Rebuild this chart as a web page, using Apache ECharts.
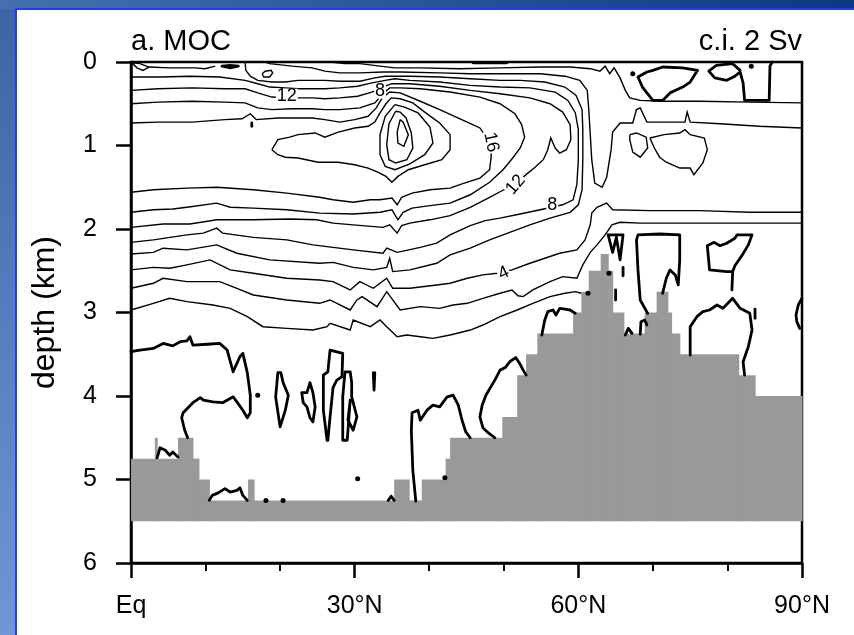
<!DOCTYPE html>
<html>
<head>
<meta charset="utf-8">
<script src="https://cdn.jsdelivr.net/npm/echarts@6/dist/echarts.min.js"></script>
<style>
html, body { margin: 0; padding: 0; background: #fff; }
#chart { width: 854px; height: 635px; }
</style>
</head>
<body>
<div id="chart"></div>
<script>
// bathymetry: step edges (deg N) and depth (km) of each step, model floor
var floorDepth = 5.5;
var bathyEdges = [0,3.2,3.5,6.3,8.3,9.1,10.5,15.7,16.5,35.3,37.3,39.0,42.2,42.8,49.8,51.8,53.0,54.5,59.3,60.4,61.4,63.0,64.0,64.6,66.1,68.9,70.5,72.0,72.5,73.6,81.5,83.7,90];
var bathyDepth = [4.75,4.5,4.75,4.5,4.75,5.0,5.25,5.0,5.25,5.0,5.25,5.0,4.75,4.5,4.25,3.75,3.5,3.25,3.0,2.75,2.5,2.3,2.5,3.0,3.25,3.0,2.75,3.0,3.25,3.5,3.75,4.0];

// positive contours [lat, depth]
var k1 = [[0,0.73],[3.6,0.72],[8.2,0.72],[12.6,0.69],[14.9,0.68],[16.0,0.62],[16.8,0.69],[19.7,0.67],[22.4,0.67],[24.3,0.67],[26.0,0.69],[28.0,0.72],[30.0,0.69],[31.8,0.65],[32.9,0.55],[33.7,0.43],[34.7,0.36],[36.1,0.37],[38.8,0.47],[41.4,0.57],[45.1,0.72],[46.8,0.79],[47.7,0.91],[48.3,1.05],[48.3,1.14],[48.1,1.29],[46.8,1.39],[44.4,1.46],[42.8,1.51],[40.1,1.53],[37.7,1.57],[36.3,1.62],[35.7,1.71],[35.0,1.63],[33.4,1.65],[32.1,1.65],[29.8,1.68],[27.1,1.65],[25.3,1.62],[20.9,1.57],[16.4,1.53],[11.5,1.50],[7.5,1.51],[3.0,1.53],[0,1.56]];
var k2 = [[0,0.50],[3.6,0.48],[8.2,0.47],[12.6,0.48],[15.3,0.49],[17.0,0.55],[18.9,0.57],[21.6,0.56],[24.3,0.56],[26.0,0.57],[28.0,0.57],[30.7,0.55],[32.7,0.49],[33.8,0.38],[34.7,0.31],[36.1,0.31],[38.8,0.32],[42.8,0.36],[46.8,0.42],[49.5,0.50],[51.5,0.62],[52.4,0.75],[52.8,0.90],[52.2,1.03],[51.2,1.15],[49.9,1.29],[48.1,1.44],[45.5,1.59],[42.8,1.69],[40.1,1.72],[37.7,1.75],[36.5,1.80],[35.8,1.89],[35.0,1.77],[33.4,1.80],[29.8,1.82],[25.3,1.81],[20.9,1.77],[16.4,1.75],[13.3,1.74],[11.5,1.69],[7.5,1.74],[5.6,1.76],[3.0,1.77],[0,1.80]];
var k3 = [[0,0.34],[3.6,0.32],[8.2,0.31],[12.6,0.32],[15.3,0.32],[17.0,0.37],[18.9,0.42],[20.9,0.43],[22.7,0.43],[24.3,0.43],[26.0,0.44],[28.0,0.43],[30.4,0.41],[32.3,0.36],[33.7,0.30],[35.0,0.26],[37.4,0.26],[41.4,0.29],[45.5,0.34],[49.5,0.38],[53.5,0.43],[56.2,0.50],[57.9,0.60],[58.9,0.75],[59.0,0.93],[58.4,1.05],[57.5,1.09],[56.9,1.03],[56.3,0.91],[55.9,1.05],[55.3,1.17],[54.2,1.26],[53.1,1.34],[51.6,1.46],[50.0,1.53],[48.1,1.62],[45.5,1.74],[42.8,1.84],[40.1,1.89],[37.4,1.93],[36.3,1.96],[35.7,2.05],[34.7,1.95],[33.8,1.98],[29.8,1.95],[27.1,1.93],[24.9,1.89],[21.3,1.88],[16.4,1.89],[11.5,1.89],[7.9,1.94],[4.3,1.94],[0,1.98]];
var k4 = [[0,0.18],[3.9,0.18],[7.9,0.17],[11.9,0.18],[15.3,0.22],[17.0,0.26],[18.6,0.30],[20.7,0.31],[22.4,0.32],[24.3,0.32],[26.0,0.32],[28.0,0.31],[30.4,0.29],[32.3,0.25],[34.1,0.22],[35.4,0.20],[37.4,0.22],[41.4,0.24],[45.5,0.28],[49.5,0.30],[53.5,0.31],[56.9,0.36],[58.6,0.46],[59.6,0.61],[60.0,0.81],[60.0,1.17],[59.8,1.47],[59.3,1.65],[57.9,1.71],[54.9,1.77],[52.2,1.82],[49.5,1.87],[47.5,1.90],[45.5,1.96],[42.8,2.07],[41.0,2.17],[38.8,2.22],[35.7,2.28],[34.3,2.23],[33.8,2.29],[29.8,2.25],[27.1,2.22],[24.4,2.19],[20.9,2.13],[16.4,2.10],[12.3,2.05],[11.5,1.99],[9.7,2.05],[7.5,2.07],[3.0,2.13],[0,2.16]];
var k5 = [[15.3,0],[15.4,0.10],[16.0,0.17],[17.0,0.22],[18.9,0.24],[20.7,0.24],[22.4,0.22],[24.3,0.22],[26.0,0.22],[28.0,0.23],[30.7,0.23],[32.7,0.19],[34.1,0.17],[35.4,0.17],[37.4,0.17],[41.4,0.18],[45.5,0.20],[49.5,0.22],[52.2,0.22],[55.5,0.24],[58.2,0.30],[59.7,0.40],[60.5,0.57],[60.6,0.81],[60.6,1.17],[60.5,1.53],[60.0,1.71],[58.9,1.80],[56.2,1.87],[53.5,1.95],[50.8,2.04],[48.1,2.13],[45.5,2.23],[42.8,2.31],[41.0,2.41],[37.4,2.49],[35.1,2.51],[34.7,2.35],[34.3,2.46],[32.5,2.49],[29.8,2.46],[27.1,2.40],[25.3,2.41],[18.6,2.37],[14.2,2.29],[11.5,2.19],[7.5,2.25],[4.3,2.23],[3.0,2.28],[0,2.30]];
var tongue = [[18.0,0],[18.6,0.02],[21.6,0.05],[24.3,0.07],[26.0,0.11],[28.0,0.13],[30.7,0.13],[33.8,0.12],[36.1,0.12],[41.4,0.13],[45.5,0.14],[49.5,0.14],[54.9,0.14],[58.2,0.17],[60.2,0.22],[61.2,0.34],[61.4,0.57],[61.6,0.87],[61.8,1.17],[62.2,1.45],[63.2,1.50],[63.8,1.38],[64.4,1.05],[64.6,0.84],[65.6,0.73],[67.3,0.73],[67.8,0.57],[68.3,0.55],[69.2,0.72],[74.3,0.72],[74.6,0.60],[75.0,0.72],[79.0,0.74],[84.3,0.77],[90,0.79]];
var shallowEast = [[26.7,0],[28.7,0.02],[30.7,0.02],[33.4,0.05],[35.4,0.07],[38.8,0.07],[44.1,0.08],[49.5,0.07],[54.9,0.06],[58.9,0.06],[61.6,0.08],[62.9,0.11],[63.6,0.05],[64.2,0.14],[64.8,0.07],[65.6,0.19],[66.3,0.34],[66.9,0.43],[68.3,0.46],[71.3,0.47],[76.3,0.47],[83.0,0.48],[90,0.49]];
var core4 = [[18.9,1.05],[19.7,0.93],[21.3,0.90],[22.4,0.87],[24.7,0.85],[26.0,0.90],[27.8,0.84],[30.0,0.79],[31.8,0.77],[32.7,0.72],[33.4,0.61],[34.2,0.50],[34.9,0.43],[36.1,0.44],[37.8,0.49],[39.4,0.60],[41.4,0.73],[42.8,0.87],[42.8,1.05],[41.7,1.17],[39.4,1.23],[37.2,1.29],[35.8,1.37],[35.0,1.44],[34.2,1.37],[33.1,1.32],[31.8,1.27],[30.0,1.23],[27.8,1.20],[25.1,1.20],[22.4,1.15],[20.7,1.14],[19.7,1.11],[18.9,1.05]];
var core3 = [[35.4,0.51],[34.1,0.65],[33.4,0.87],[33.4,1.11],[34.1,1.25],[35.4,1.29],[37.4,1.22],[39.4,1.11],[40.5,0.97],[40.1,0.78],[38.5,0.61],[36.7,0.54],[35.4,0.51]];
var core2 = [[35.5,0.59],[34.6,0.74],[34.3,0.99],[34.6,1.17],[35.5,1.21],[37.0,1.17],[37.8,1.03],[37.6,0.85],[36.9,0.67],[36.1,0.60],[35.5,0.59]];
var core1 = [[36.1,0.69],[35.7,0.84],[35.8,0.97],[36.6,1.01],[37.2,0.87],[36.5,0.72],[36.1,0.69]];
var r6 = [[0,2.49],[3.0,2.46],[5.2,2.47],[7.5,2.43],[10.6,2.37],[13.3,2.49],[16.4,2.53],[20.9,2.59],[25.3,2.61],[27.1,2.63],[29.4,2.73],[30.7,2.63],[32.5,2.71],[34.3,2.59],[35.1,2.71],[37.4,2.71],[41.0,2.67],[42.8,2.65],[45.1,2.59],[47.2,2.55],[49.1,2.53],[51.1,2.49],[53.5,2.41],[55.5,2.35],[57.5,2.29],[59.8,2.25],[60.9,2.13],[61.6,1.95],[61.8,1.81],[62.5,1.74],[63.8,1.69],[64.6,1.77],[69.6,1.78],[76.3,1.78],[83.0,1.80],[90,1.80]];
var r7 = [[0,2.71],[3.0,2.65],[4.3,2.59],[7.5,2.63],[11.9,2.63],[14.2,2.71],[16.4,2.79],[20.9,2.85],[25.3,2.89],[26.7,2.85],[29.4,2.97],[30.3,2.85],[31.0,2.81],[33.0,2.93],[34.3,2.75],[36.1,2.97],[38.8,2.93],[41.4,2.95],[43.2,2.91],[45.1,2.89],[47.2,2.83],[49.5,2.77],[51.1,2.73],[51.9,2.80],[52.6,2.81],[53.9,2.73],[56.2,2.63],[57.9,2.57],[59.8,2.59],[60.6,2.43],[61.6,2.28],[62.5,2.19],[63.6,2.07],[64.5,1.95],[65.6,1.92],[68.3,1.93],[76.3,1.93],[90,1.93]];
var r8 = [[0,2.97],[3.0,2.89],[5.2,2.83],[7.5,2.87],[11.0,2.91],[13.3,2.95],[15.6,3.05],[17.7,3.17],[20.9,3.19],[24.4,3.21],[26.3,3.17],[26.7,3.13],[29.4,3.21],[29.8,3.09],[32.1,3.17],[33.4,3.09],[34.3,3.17],[35.7,3.29],[37.0,3.27],[38.8,3.29],[40.5,3.31],[42.8,3.27],[45.5,3.21],[47.2,3.15],[49.5,3.05],[51.8,2.97],[53.9,2.89],[56.2,2.81],[58.2,2.77],[59.6,2.75],[60.4,2.77]];
var cornerLoop = [[0.1,0.01],[0.8,0.07],[1.6,0.10],[2.4,0.06],[1.2,0.02],[0.1,0.01]];
var surfaceWest = [[2.4,0.06],[5.2,0.07],[8.6,0.07],[9.9,0.08],[11.3,0.05]];
var smallLoopW = [[17.6,0.14],[18.0,0.11],[18.8,0.10],[19.0,0.13],[18.6,0.18],[17.8,0.18],[17.6,0.14]];
var loopE1 = [[66.9,0.87],[67.8,0.85],[69.1,0.90],[69.3,1.03],[68.3,1.14],[67.3,1.08],[66.9,0.93],[66.9,0.87]];
var loopE2 = [[69.6,0.91],[71.5,0.87],[73.6,0.85],[74.3,0.81],[75.0,0.87],[76.9,0.91],[77.3,1.05],[76.7,1.21],[75.5,1.35],[75.0,1.27],[73.6,1.27],[71.8,1.20],[70.9,1.14],[70.2,1.03],[69.6,0.91]];

// zero contours (drawn bold)
var z1 = [[0,3.47],[1.2,3.45],[3.0,3.43],[4.3,3.37],[5.6,3.40],[6.6,3.35],[7.5,3.34],[7.9,3.29],[8.3,3.39],[10.2,3.38],[11.9,3.37],[12.9,3.45],[13.7,3.71],[14.6,3.53],[15.0,3.49],[15.6,3.72],[16.0,3.99],[16.0,4.20],[15.6,4.26],[15.0,4.17],[14.2,4.07],[13.7,4.01],[12.3,4.08],[11.0,4.07],[9.7,4.05],[9.3,4.02],[8.3,4.08],[7.0,4.20],[6.8,4.26],[7.2,4.41],[7.6,4.50]];
var z2 = [[3.5,4.74],[3.9,4.62],[4.6,4.65],[5.2,4.71],[5.6,4.67],[6.3,4.73]];
var z3 = [[10.5,5.25],[10.9,5.19],[11.7,5.16],[12.6,5.11],[13.3,5.15],[14.2,5.13],[14.6,5.10],[15.0,5.19],[15.6,5.25]];
var z5 = [[19.7,3.72],[19.4,4.01],[20.0,4.37],[20.7,4.17],[21.1,3.99],[20.4,3.84],[20.1,3.72],[19.7,3.72]];
var z6 = [[22.9,3.96],[23.1,4.08],[23.6,4.13],[24.0,4.26],[24.4,4.31],[24.7,4.13],[24.4,3.96],[24.0,3.84],[23.6,3.96],[22.9,3.96]];
var z7 = [[26.3,4.53],[25.8,4.17],[25.8,3.75],[26.4,3.71],[26.7,3.45],[28.4,3.49],[28.3,3.77],[27.6,3.81],[27.1,3.90],[26.7,4.25],[26.4,4.53],[26.3,4.53]];
var z8 = [[28.4,4.53],[28.4,4.01],[28.7,3.71],[29.4,3.71],[29.6,3.84],[29.6,4.01],[30.3,4.25],[29.8,4.41],[29.1,4.29],[29.4,4.05],[29.0,4.53],[28.4,4.53]];
var z9 = [[32.5,3.72],[32.6,3.93],[32.7,3.72]];
var z10 = [[38.2,5.26],[37.8,4.89],[37.6,4.41],[37.7,4.20],[38.5,4.17],[38.8,4.29],[39.7,4.17],[40.5,4.11],[41.4,4.13],[42.4,4.01],[43.2,3.99],[43.9,4.11],[44.4,4.29],[44.9,4.43],[45.5,4.50]];
var z11 = [[34.5,5.25],[34.9,5.20],[35.3,5.25]];
var z12 = [[48.8,4.50],[47.9,4.44],[47.2,4.38],[46.8,4.25],[47.1,4.11],[47.6,3.99],[48.8,3.81],[49.5,3.69],[50.2,3.66],[50.8,3.59],[51.6,3.54],[52.2,3.62],[52.6,3.69],[53.0,3.75]];
var z13 = [[55.1,3.27],[55.5,3.09],[55.9,2.99],[56.6,2.97],[57.0,3.03],[57.5,2.95],[58.2,2.96],[58.9,2.97],[59.6,3.01]];
var z14 = [[66.3,3.27],[66.7,3.19],[67.2,3.25]];
var z15 = [[68.3,3.26],[68.4,3.11],[68.9,3.09],[69.2,3.15]];
var z16 = [[64.0,2.07],[64.6,2.28],[65.1,2.10],[65.6,2.37],[66.0,2.07],[64.0,2.07]];
var z17 = [[66.0,2.46],[66.0,2.56]];
var z18 = [[65.0,2.73],[65.0,2.85]];
var z19 = [[69.3,3.01],[68.3,2.85],[68.0,2.49],[67.8,2.13],[68.0,2.07],[70.9,2.06],[73.6,2.07],[73.6,2.37],[73.4,2.67],[73.0,2.55],[72.3,2.49],[71.8,2.59],[71.3,2.77]];
var z20 = [[80.6,2.73],[80.7,2.51],[79.9,2.51],[77.6,2.49],[77.3,2.20],[78.2,2.16],[79.0,2.20],[79.9,2.17],[81.0,2.11],[81.3,2.07],[83.3,2.07],[82.8,2.19],[82.0,2.31],[81.0,2.44],[80.7,2.51]];
var z21 = [[75.0,3.51],[75.0,3.17],[75.9,3.05],[76.7,2.99],[77.6,2.97],[78.6,2.91],[79.4,2.95],[80.7,2.83],[81.7,2.95],[83.0,3.01],[83.3,3.21],[82.8,3.41],[82.1,3.59],[82.3,3.75]];
var z22 = [[83.7,2.96],[83.7,3.07]];
var z23 = [[90,2.83],[89.5,2.91],[89.2,3.03],[89.3,3.11],[89.7,3.19]];
var z24 = [[68.0,0.18],[69.2,0.12],[70.0,0.10],[71.3,0.06],[74.0,0.07],[76.0,0.10],[75.0,0.24],[74.0,0.30],[72.3,0.37],[71.3,0.46],[70.0,0.46],[69.2,0.37],[68.6,0.30],[68.0,0.18]];
var z25 = [[86.0,0],[85.7,0.05],[85.6,0.46],[82.3,0.46],[82.1,0.25],[81.7,0.12],[81.0,0.17],[79.9,0.22],[78.3,0.19],[77.5,0.11],[78.5,0.04],[80.7,0.02],[81.7,0.10]];
var z26 = [[12.2,0.05],[13.3,0.04],[14.4,0.05],[13.3,0.07],[12.2,0.05]];
var z27 = [[45.9,0.01],[50.4,0.01]];
var z28 = [[16.2,0.73],[16.2,0.77]];

// isolated dots
var dotLat = [18.1,20.4,30.4,42.1,17.0,67.3,64.1,61.3,83.2];
var dotDepth = [5.25,5.25,4.99,4.98,3.99,0.14,2.53,2.77,0.05];

// contour labels
var labelText = ['12','8','16','12','8','4'];
var labelLat = [20.9,33.4,48.3,51.6,56.5,50.0];
var labelDepth = [0.41,0.35,0.96,1.47,1.71,2.53];

var thinLines = [k1,k2,k3,k4,k5,tongue,shallowEast,core4,core3,core2,core1,r6,r7,r8,cornerLoop,surfaceWest,smallLoopW,loopE1,loopE2];
var thickLines = [z1,z2,z3,z5,z6,z7,z8,z9,z10,z11,z12,z13,z14,z15,z16,z17,z18,z19,z20,z21,z22,z23,z24,z25,z26,z27,z28];

var FONT = '"Liberation Sans", Arial, Helvetica, sans-serif';
var labelRotate = [0, 0, -78, 50, 0, 25];

var bathyData = bathyDepth.map(function (d, i) {
    return [bathyEdges[i], bathyEdges[i + 1], d];
});

var chart = echarts.init(document.getElementById('chart'));
chart.setOption({
    animation: false,
    backgroundColor: '#fff',
    graphic: [
        {type: 'rect', shape: {x: 0, y: 0, width: 16, height: 635}, silent: true,
            style: {fill: {type: 'linear', x: 0, y: 0, x2: 0, y2: 1,
                colorStops: [{offset: 0, color: '#3c64a5'}, {offset: 1, color: '#7096d8'}]}}},
        {type: 'rect', shape: {x: 0, y: 0, width: 854, height: 9}, silent: true,
            style: {fill: {type: 'linear', x: 0, y: 0, x2: 1, y2: 0,
                colorStops: [{offset: 0, color: '#4570b0'}, {offset: 1, color: '#0b3a80'}]}}},
        {type: 'rect', shape: {x: 15, y: 8, width: 2, height: 627}, silent: true, style: {fill: '#1b3dff'}},
        {type: 'rect', shape: {x: 15, y: 8, width: 839, height: 2}, silent: true, style: {fill: '#1b3dff'}}
    ],
    title: [
        {text: 'a. MOC', left: 131, top: 27, padding: 0,
            textStyle: {fontFamily: FONT, fontSize: 29, fontWeight: 'normal', color: '#000'}},
        {text: 'c.i. 2 Sv', right: 52, top: 27, padding: 0,
            textStyle: {fontFamily: FONT, fontSize: 29, fontWeight: 'normal', color: '#000'}}
    ],
    grid: {left: 131, top: 62, right: 52, bottom: 72, show: true,
        borderColor: '#000', borderWidth: 2.5, backgroundColor: 'transparent'},
    xAxis: {
        type: 'value', min: 0, max: 90, interval: 30,
        axisLine: {show: true, onZero: false, lineStyle: {color: '#000', width: 2.5}},
        axisTick: {show: true, length: 15, lineStyle: {color: '#000', width: 2.5}},
        minorTick: {show: true, splitNumber: 3, length: 8, lineStyle: {color: '#000', width: 2}},
        splitLine: {show: false},
        axisLabel: {margin: 31, fontFamily: FONT, fontSize: 25, color: '#000',
            formatter: function (v) { return v === 0 ? 'Eq' : v + '°N'; }}
    },
    yAxis: {
        type: 'value', inverse: true, min: 0, max: 6, interval: 1,
        name: 'depth (km)', nameLocation: 'middle', nameGap: 70,
        nameTextStyle: {fontFamily: FONT, fontSize: 32, color: '#000'},
        axisLine: {show: true, onZero: false, lineStyle: {color: '#000', width: 2.5}},
        axisTick: {show: true, length: 15, lineStyle: {color: '#000', width: 2.5}},
        splitLine: {show: false},
        axisLabel: {margin: 34, fontFamily: FONT, fontSize: 25, color: '#000'}
    },
    series: [
        {
            type: 'custom',
            data: bathyData,
            encode: {x: [0, 1], y: 2},
            z: 1,
            silent: true,
            renderItem: function (params, api) {
                var a = api.coord([api.value(0), api.value(2)]);
                var b = api.coord([api.value(1), floorDepth]);
                return {type: 'rect',
                    shape: {x: a[0], y: a[1], width: b[0] - a[0] + 0.6, height: b[1] - a[1]},
                    style: {fill: '#999999'}};
            }
        },
        {
            type: 'lines', coordinateSystem: 'cartesian2d', polyline: true, z: 3, silent: true,
            data: thinLines.map(function (c) { return {coords: c}; }),
            lineStyle: {color: '#000', width: 1.4, opacity: 1, curveness: 0}
        },
        {
            type: 'lines', coordinateSystem: 'cartesian2d', polyline: true, z: 3, silent: true,
            data: thickLines.map(function (c) { return {coords: c}; }),
            lineStyle: {color: '#000', width: 2.8, opacity: 1, curveness: 0, cap: 'round', join: 'round'}
        },
        {
            type: 'scatter', z: 4, silent: true, symbolSize: 5,
            itemStyle: {color: '#000', opacity: 1},
            data: dotLat.map(function (x, i) { return [x, dotDepth[i]]; })
        },
        {
            // contour labels, white box cuts the line under the number
            type: 'custom', z: 6, silent: true,
            data: labelText.map(function (t, i) { return [labelLat[i], labelDepth[i], i]; }),
            encode: {x: 0, y: 1},
            renderItem: function (params, api) {
                var i = api.value(2);
                var p = api.coord([api.value(0), api.value(1)]);
                return {
                    type: 'text', x: p[0], y: p[1],
                    rotation: labelRotate[i] * Math.PI / 180,
                    style: {text: labelText[i], fill: '#000',
                        font: '18px ' + FONT, align: 'center', verticalAlign: 'middle',
                        backgroundColor: '#fff', padding: [0, 1], lineHeight: 15}
                };
            }
        }
    ]
});
</script>
</body>
</html>
